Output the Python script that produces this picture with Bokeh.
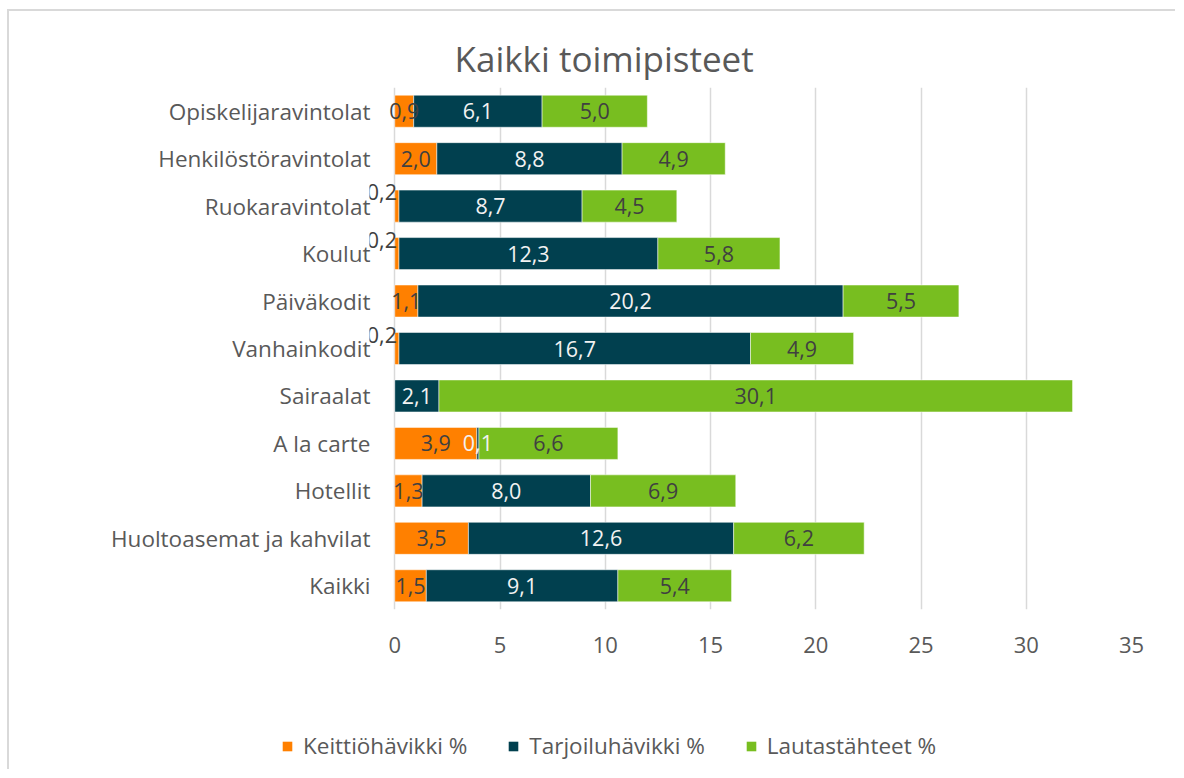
import numpy as np
from bokeh.plotting import figure
from bokeh.layouts import column, row
from bokeh.models import (ColumnDataSource, LabelSet, Legend, LegendItem, FixedTicker,
                          Range1d, FactorRange, Title)
from bokeh.core.properties import value
from bokeh.embed import file_html
from bokeh.resources import INLINE

categories = ["Opiskelijaravintolat", "Henkilöstöravintolat", "Ruokaravintolat", "Koulut",
              "Päiväkodit", "Vanhainkodit", "Sairaalat", "A la carte", "Hotellit",
              "Huoltoasemat ja kahvilat", "Kaikki"]
keittio = [0.9, 2.0, 0.2, 0.2, 1.1, 0.2, 0.0, 3.9, 1.3, 3.5, 1.5]
tarjoilu = [6.1, 8.8, 8.7, 12.3, 20.2, 16.7, 2.1, 0.1, 8.0, 12.6, 9.1]
lautas = [5.0, 4.9, 4.5, 5.8, 5.5, 4.9, 30.1, 6.6, 6.9, 6.2, 5.4]
series_names = ["Keittiöhävikki %", "Tarjoiluhävikki %", "Lautastähteet %"]
x_ticks = [0, 5, 10, 15, 20, 25, 30, 35]

colors = ["#FF8000", "#01404F", "#78BE20"]
label_colors = ["#404040", "#F2F2F2", "#404040"]
FONT = "Open Sans"
GREY = "#595959"
BORDER = "2px solid #d9d9d9"

y_range = FactorRange(*reversed(categories), range_padding=0)
x_range = Range1d(-1.2, 35)

p = figure(width=1168, height=700, output_backend="svg", toolbar_location=None,
           y_range=y_range, x_range=x_range,
           min_border_left=360, min_border_right=46, min_border_top=76, min_border_bottom=102)
p.styles = {"border-left": BORDER, "border-top": BORDER,
            "margin-left": "7px", "margin-top": "9px"}
p.outline_line_color = None
p.background_fill_color = "white"
p.border_fill_color = "white"

p.title = Title(text="Kaikki toimipisteet", align="left", offset=85, standoff=12,
                text_font=FONT, text_font_size="35px", text_font_style="normal",
                text_color=GREY)

# legend strip below the chart (separate canvas so the legend can sit left of the bars)
p2 = figure(width=1168, height=60, output_backend="svg", toolbar_location=None,
            x_range=Range1d(-1.2, 35), y_range=FactorRange(*reversed(categories)),
            x_axis_location=None, y_axis_location=None,
            min_border_left=0, min_border_right=0, min_border_top=0, min_border_bottom=0)
p2.styles = {"border-left": BORDER, "margin-left": "7px"}
p2.grid.visible = False
p2.outline_line_color = None
p2.border_fill_color = "white"
p2.background_fill_color = "white"

all_series = [np.array(keittio), np.array(tarjoilu), np.array(lautas)]
left = np.zeros(len(categories))
leg_renderers = []
for i, vals in enumerate(all_series):
    right = left + vals
    mid = (left + right) / 2
    xoff = np.zeros(len(categories))
    yoff = np.zeros(len(categories))
    if i == 0:
        small = (vals > 0) & (vals < 0.5)
        xoff[small] = -15
        yoff[small] = 14
    src = ColumnDataSource(dict(
        cat=categories, left=left.copy(), right=right, mid=mid,
        txt=[("%.1f" % v).replace(".", ",") if v > 0 else "" for v in vals],
        xoff=xoff, yoff=yoff))
    p.hbar(y="cat", left="left", right="right", height=0.675, source=src,
           fill_color=colors[i], line_color="white", line_width=1, line_alpha=0.5)
    p.add_layout(LabelSet(x="mid", y="cat", text="txt", source=src, x_offset="xoff",
                          y_offset="yoff", text_align="center", text_baseline="middle",
                          text_font=value(FONT), text_font_size="21.5px",
                          text_color=label_colors[i]))
    lr = p2.hbar(y="cat", left="left", right="right", height=0.675, source=src,
                 fill_color=colors[i], line_color=None, visible=False)
    leg_renderers.append(lr)
    left = right

p.xgrid.ticker = FixedTicker(ticks=x_ticks)
p.xgrid.grid_line_color = "#D9D9D9"
p.xgrid.grid_line_width = 1.5
p.ygrid.grid_line_color = None

p.xaxis.ticker = FixedTicker(ticks=x_ticks)
p.xaxis.axis_line_color = None
p.xaxis.major_tick_line_color = None
p.xaxis.minor_tick_line_color = None
p.xaxis.major_label_standoff = 21
p.xaxis.major_label_text_font = FONT
p.xaxis.major_label_text_font_size = "22px"
p.xaxis.major_label_text_color = GREY

p.yaxis.axis_line_color = None
p.yaxis.major_tick_line_color = None
p.yaxis.minor_tick_line_color = None
p.yaxis.major_label_standoff = -7
p.yaxis.major_label_text_font = FONT
p.yaxis.major_label_text_font_size = "22.5px"
p.yaxis.major_label_text_color = GREY

legend = Legend(items=[LegendItem(label=series_names[i], renderers=[leg_renderers[i]])
                       for i in range(3)],
                orientation="horizontal", location=(272, 8),
                glyph_width=12, glyph_height=12, label_standoff=10, spacing=40,
                padding=0, margin=0, border_line_color=None, background_fill_alpha=0,
                inactive_fill_alpha=0,
                label_text_font=FONT, label_text_font_size="22.5px", label_text_color=GREY)
p2.add_layout(legend)

layout = column(p, row(p2), spacing=0)
open("out.html", "w").write(file_html(layout, INLINE))
